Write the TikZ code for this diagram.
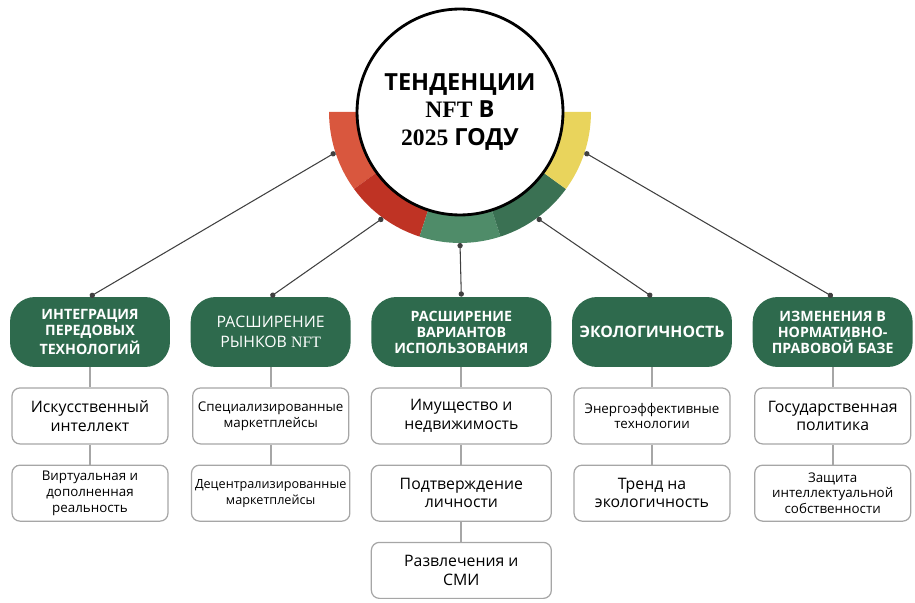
\documentclass[tikz,border=0pt]{standalone}
\usepackage{fontspec}
\setmainfont{Open Sans}
\newfontfamily\serifnum{Liberation Serif}
\usetikzlibrary{positioning, arrows.meta}

\definecolor{hdrgreen}{HTML}{2E6A4D}
\definecolor{ringA}{HTML}{D9573E}
\definecolor{ringB}{HTML}{BF3324}
\definecolor{ringC}{HTML}{4F8C69}
\definecolor{ringD}{HTML}{3A7153}
\definecolor{ringE}{HTML}{E9D45C}

\begin{document}
\begin{tikzpicture}[x=0.02cm, y=0.02cm, node distance=0.4cm,
    header/.style={rectangle, rounded corners=0.5cm, fill=hdrgreen, text=white, align=center,
        minimum width=3.2cm, minimum height=1.4cm, inner sep=2pt, font=\fontsize{8.1}{9.1}\selectfont\bfseries},
    item/.style={rectangle, rounded corners=0.16cm, draw=gray!70, line width=0.7pt, fill=white, align=center,
        minimum width=3.12cm, minimum height=1.12cm, inner sep=2pt, font=\fontsize{9}{10.5}\selectfont},
    small/.style={font=\fontsize{7.6}{9}\selectfont},
    stem/.style={draw=gray!70, line width=1pt},
    link/.style={draw=black!75, line width=0.6pt, {Circle[length=3pt]}-{Circle[length=3pt]}}]

    \useasboundingbox (0,0) rectangle (915,602);

    % central circle with the coloured ring
    \coordinate (ctr) at (460,490);
    \foreach \a/\b/\c in {180/216/ringA, 216/252/ringB, 252/288/ringC, 288/324/ringD, 324/360/ringE}
        \fill[\c] ([shift={(\a:2.62cm)}]ctr) arc[start angle=\a, end angle=\b, radius=2.62cm]
            -- ([shift={(\b:2.02cm)}]ctr) arc[start angle=\b, end angle=\a, radius=2.02cm] -- cycle;
    \node [circle, draw=black, line width=1.6pt, fill=white, minimum size=4.12cm, inner sep=0pt, align=center,
        font=\fontsize{13.4}{15.5}\selectfont\bfseries] (title) at (ctr)
        {ТЕНДЕНЦИИ\\{\serifnum NFT} В\\{\serifnum 2025} ГОДУ};

    % headers
    \node [header] (h1) at (90,270) {ИНТЕГРАЦИЯ\\ПЕРЕДОВЫХ\\ТЕХНОЛОГИЙ};
    \node [header, right=of h1, font=\fontsize{9}{11}\selectfont] (h2) {РАСШИРЕНИЕ\\РЫНКОВ {\serifnum NFT}};
    \node [header, right=of h2, minimum width=3.6cm] (h3) {РАСШИРЕНИЕ\\ВАРИАНТОВ\\ИСПОЛЬЗОВАНИЯ};
    \node [header, right=of h3, font=\fontsize{9}{10}\selectfont\bfseries] (h4) {ЭКОЛОГИЧНОСТЬ};
    \node [header, right=of h4] (h5) {ИЗМЕНЕНИЯ В\\НОРМАТИВНО-\\ПРАВОВОЙ БАЗЕ};

    % items
    \node [item, below=of h1] (i11) {Искусственный\\интеллект};
    \node [item, small, below=of i11] (i12) {Виртуальная и\\дополненная\\реальность};
    \node [item, small, below=of h2] (i21) {Специализированные\\маркетплейсы};
    \node [item, small, font=\fontsize{7.2}{9}\selectfont, below=of i21] (i22) {Децентрализированные\\маркетплейсы};
    \node [item, minimum width=3.6cm, below=of h3] (i31) {Имущество и\\недвижимость};
    \node [item, minimum width=3.6cm, below=of i31] (i32) {Подтверждение\\личности};
    \node [item, minimum width=3.6cm, below=of i32] (i33) {Развлечения и\\СМИ};
    \node [item, small, below=of h4] (i41) {Энергоэффективные\\технологии};
    \node [item, below=of i41] (i42) {Тренд на\\экологичность};
    \node [item, below=of h5] (i51) {Государственная\\политика};
    \node [item, small, below=of i51] (i52) {Защита\\интеллектуальной\\собственности};

    \draw [stem] (h1) -- (i11) (i11) -- (i12);
    \draw [stem] (h2) -- (i21) (i21) -- (i22);
    \draw [stem] (h3) -- (i31) (i31) -- (i32) (i32) -- (i33);
    \draw [stem] (h4) -- (i41) (i41) -- (i42);
    \draw [stem] (h5) -- (i51) (i51) -- (i52);

    % links to the ring
    \foreach \i/\a in {1/198, 2/234, 3/270, 4/306, 5/342}
        \coordinate (r\i) at ([shift={(\a:2.62cm)}]ctr);
    \foreach \i in {1,...,5}
        \draw [link] (h\i.north) -- (r\i);
\end{tikzpicture}
\end{document}
